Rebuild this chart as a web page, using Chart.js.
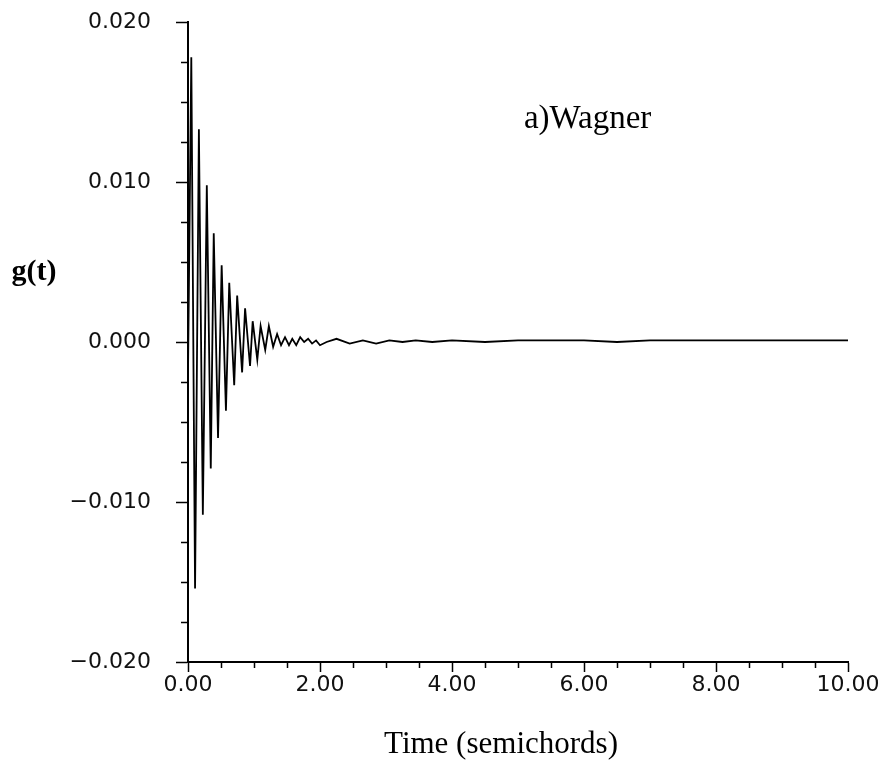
<!DOCTYPE html>
<html>
<head>
<meta charset="utf-8">
<script src="https://cdn.jsdelivr.net/npm/chart.js@4.4.1/dist/chart.umd.min.js"></script>
<style>
  html, body { margin: 0; padding: 0; background: #fff; }
  canvas { display: block; }
</style>
</head>
<body>
<canvas id="c" width="882" height="771"></canvas>
<script>
// ---- data ----
const timeValues = [
  0.00, 0.05, 0.107, 0.165, 0.225, 0.285, 0.345, 0.39, 0.455, 0.51, 0.575, 0.625,
  0.70, 0.745, 0.82, 0.865, 0.94, 0.98, 1.05, 1.10, 1.17, 1.225, 1.29, 1.35,
  1.41, 1.47, 1.53, 1.58, 1.64, 1.70, 1.76, 1.82, 1.88, 1.94, 2.00, 2.10,
  2.25, 2.45, 2.65, 2.85, 3.05, 3.25, 3.45, 3.70, 4.00, 4.50, 5.00, 5.50,
  6.00, 6.50, 7.00, 7.50, 8.00, 8.50, 9.00, 9.50, 10.00
];
const gValues = [
  -0.0020, 0.0178, -0.0154, 0.0133, -0.0108, 0.0098, -0.0079, 0.0068, -0.0060, 0.0048, -0.0043, 0.0037,
  -0.0027, 0.0029, -0.0019, 0.0021, -0.0015, 0.0013, -0.0011, 0.0010, -0.0005, 0.0010, -0.0003, 0.0005,
  -0.0002, 0.0003, -0.0002, 0.0002, -0.0002, 0.0003, 0.0000, 0.0002, -0.0001, 0.0001, -0.0002, 0.0000,
  0.0002, -0.0001, 0.0001, -0.0001, 0.0001, 0.0000, 0.0001, 0.0000, 0.0001, 0.0000, 0.0001, 0.0001,
  0.0001, 0.0000, 0.0001, 0.0001, 0.0001, 0.0001, 0.0001, 0.0001, 0.0001
];
const xMajorTicks = [0, 2, 4, 6, 8, 10];
const xMinorTicks = [0.5, 1, 1.5, 2.5, 3, 3.5, 4.5, 5, 5.5, 6.5, 7, 7.5, 8.5, 9, 9.5];
const yMajorTicks = [-0.02, -0.01, 0, 0.01, 0.02];
const yMinorTicks = [-0.0175, -0.015, -0.0125, -0.0075, -0.005, -0.0025, 0.0025, 0.005, 0.0075, 0.0125, 0.015, 0.0175];
const xTitle = 'Time (semichords)';
const yTitle = 'g(t)';
const annotationText = 'a)Wagner';
const annotationPos = { x: 5.09, y: 0.0139 };

const points = timeValues.map((t, i) => ({ x: t, y: gValues[i] }));

const fmtY = v => {
  if (Math.abs(v) < 1e-9) return '0.000';
  return (v < 0 ? '\u2212' : '') + Math.abs(v).toFixed(3);
};

const extrasPlugin = {
  id: 'extras',
  afterDraw(chart) {
    const ctx = chart.ctx;
    const xs = chart.scales.x, ys = chart.scales.y;
    const area = chart.chartArea;
    ctx.save();
    ctx.strokeStyle = '#000';
    ctx.lineWidth = 1.5;
    ctx.beginPath();
    yMinorTicks.forEach(v => {
      const py = Math.round(ys.getPixelForValue(v)) + 0.5;
      ctx.moveTo(area.left - 7, py);
      ctx.lineTo(area.left, py);
    });
    xMinorTicks.forEach(v => {
      const px = Math.round(xs.getPixelForValue(v)) + 0.5;
      ctx.moveTo(px, area.bottom);
      ctx.lineTo(px, area.bottom + 6);
    });
    ctx.stroke();
    ctx.fillStyle = '#000';
    // y title (horizontal, left of the axis)
    ctx.font = 'bold 30px "Liberation Serif", serif';
    ctx.textAlign = 'center';
    ctx.textBaseline = 'middle';
    ctx.fillText(yTitle, 34, 272);
    // x title
    ctx.font = '31px "Liberation Serif", serif';
    ctx.fillText(xTitle, 501, 745);
    // annotation
    ctx.font = '33px "Liberation Serif", serif';
    ctx.textAlign = 'left';
    ctx.fillText(annotationText, xs.getPixelForValue(annotationPos.x), ys.getPixelForValue(annotationPos.y));
    ctx.restore();
  }
};

new Chart(document.getElementById('c'), {
  type: 'line',
  data: {
    datasets: [{
      data: points,
      borderColor: '#000',
      borderWidth: 1.8,
      pointRadius: 0,
      tension: 0,
      fill: false
    }]
  },
  options: {
    responsive: false,
    animation: false,
    layout: { padding: { left: 0, top: 22, right: 34, bottom: 0 } },
    plugins: { legend: { display: false }, tooltip: { enabled: false } },
    scales: {
      x: {
        type: 'linear',
        min: 0, max: 10,
        afterBuildTicks: s => { s.ticks = xMajorTicks.map(v => ({ value: v })); },
        afterFit: s => { s.height = 771 - 662; s.paddingLeft = 0; s.paddingRight = 0; },
        ticks: {
          callback: v => Number(v).toFixed(2),
          color: '#111',
          font: { family: '"DejaVu Sans", sans-serif', size: 22 },
          maxRotation: 0,
          padding: 0
        },
        grid: { drawOnChartArea: false, drawTicks: true, tickLength: 10, tickColor: '#000', tickWidth: 1.5 },
        border: { display: true, color: '#000', width: 2 }
      },
      y: {
        type: 'linear',
        min: -0.02, max: 0.02,
        afterBuildTicks: s => { s.ticks = yMajorTicks.map(v => ({ value: v })); },
        afterFit: s => { s.width = 188; s.paddingTop = 0; s.paddingBottom = 0; },
        ticks: {
          callback: v => fmtY(v),
          color: '#111',
          font: { family: '"DejaVu Sans", sans-serif', size: 22 },
          padding: 25
        },
        grid: { drawOnChartArea: false, drawTicks: true, tickLength: 12, tickColor: '#000', tickWidth: 1.5 },
        border: { display: true, color: '#000', width: 2 }
      }
    }
  },
  plugins: [extrasPlugin]
});
</script>
</body>
</html>
